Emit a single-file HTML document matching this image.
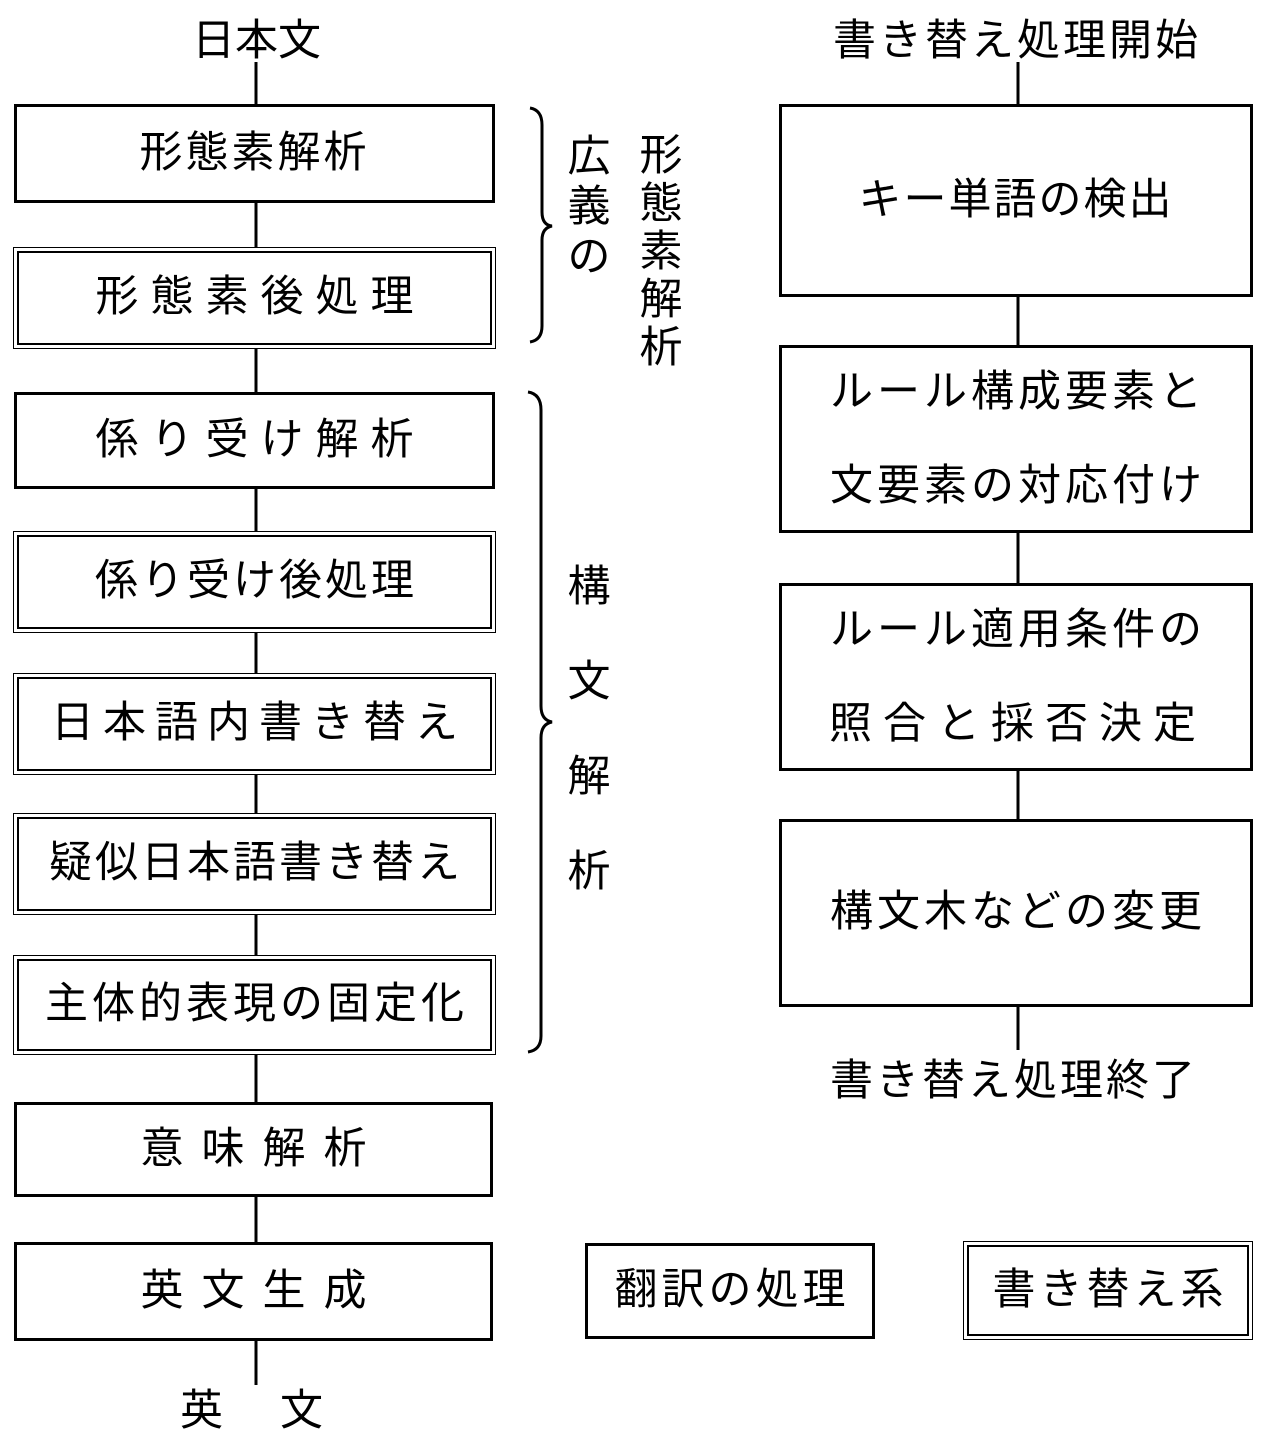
<!DOCTYPE html>
<html><head><meta charset="utf-8">
<style>
html,body{margin:0;padding:0;background:#fff;}
body{width:1279px;height:1445px;position:relative;overflow:hidden;font-family:"Liberation Sans","Noto Sans CJK JP",sans-serif;color:#000;}
.b{position:absolute;box-sizing:border-box;border:3px solid #000;background:#fff;display:flex;align-items:center;justify-content:center;flex-direction:column;font-size:43px;line-height:1.9;white-space:nowrap;}
.d{position:absolute;box-sizing:border-box;border:1.5px solid #000;background:#fff;}
.d .b{left:3px;top:3px;right:3px;bottom:3px;border-width:2.5px;}
.t{position:absolute;font-size:43px;white-space:nowrap;line-height:1;}
.v{position:absolute;font-size:43px;line-height:1;width:46px;text-align:center;}
svg{position:absolute;left:0;top:0;}
</style></head><body>
<svg width="1279" height="1445">
<g stroke="#000" stroke-width="3" fill="none">
<line x1="256" y1="62" x2="256" y2="1385"/>
<line x1="1018" y1="62" x2="1018" y2="1050"/>
<path d="M530 108 Q542 110 542 125 L542 212 Q542 225 552 226 Q542 228 542 240 L542 326 Q542 340 530 342"/>
<path d="M528 392 Q541 394 541 410 L541 706 Q541 720 552 722 Q541 724 541 738 L541 1036 Q541 1050 528 1052"/>
</g></svg>

<div class="t" style="left:192px;top:20px;">日本文</div>
<div class="t" style="left:180px;top:1390px;letter-spacing:57px;">英文</div>

<div class="b" style="left:14px;top:104px;width:481px;height:99px;letter-spacing:3px;">形態素解析</div>
<div class="d" style="left:13px;top:247px;width:483px;height:102px;"><div class="b" style="letter-spacing:12px;padding-left:12px;">形態素後処理</div></div>
<div class="b" style="left:14px;top:392px;width:481px;height:97px;letter-spacing:12px;padding-left:12px;">係り受け解析</div>
<div class="d" style="left:13px;top:531px;width:483px;height:102px;"><div class="b" style="letter-spacing:3px;padding-left:3px;">係り受け後処理</div></div>
<div class="d" style="left:13px;top:673px;width:483px;height:102px;"><div class="b" style="letter-spacing:9px;padding-left:9px;">日本語内書き替え</div></div>
<div class="d" style="left:13px;top:813px;width:483px;height:102px;"><div class="b" style="letter-spacing:3px;padding-left:3px;">疑似日本語書き替え</div></div>
<div class="d" style="left:13px;top:955px;width:483px;height:100px;"><div class="b" style="letter-spacing:4px;padding-left:4px;">主体的表現の固定化</div></div>
<div class="b" style="left:14px;top:1102px;width:479px;height:95px;letter-spacing:18px;padding-left:18px;">意味解析</div>
<div class="b" style="left:14px;top:1242px;width:479px;height:99px;letter-spacing:18px;padding-left:18px;">英文生成</div>

<div class="v" style="left:566px;top:132px;line-height:50px;">広<br>義<br>の</div>
<div class="v" style="left:638px;top:132px;line-height:48px;">形<br>態<br>素<br>解<br>析</div>
<div class="v" style="left:566px;top:540px;line-height:95px;">構<br>文<br>解<br>析</div>

<div class="t" style="left:833px;top:20px;letter-spacing:3px;">書き替え処理開始</div>
<div class="b" style="left:779px;top:104px;width:474px;height:193px;letter-spacing:2px;">キー単語の検出</div>
<div class="b" style="left:779px;top:345px;width:474px;height:188px;line-height:94px;letter-spacing:4px;padding-left:4px;">ルール構成要素と<br>文要素の対応付け</div>
<div class="b" style="left:779px;top:583px;width:474px;height:188px;line-height:94px;letter-spacing:4px;padding-left:4px;">ルール適用条件の<br><span style="letter-spacing:11px">照合と採否決定</span></div>
<div class="b" style="left:779px;top:819px;width:474px;height:188px;letter-spacing:4px;padding-left:4px;">構文木などの変更</div>
<div class="t" style="left:830px;top:1060px;letter-spacing:3px;">書き替え処理終了</div>

<div class="b" style="left:585px;top:1243px;width:290px;height:96px;letter-spacing:4px;padding-left:4px;">翻訳の処理</div>
<div class="d" style="left:963px;top:1241px;width:290px;height:99px;"><div class="b" style="letter-spacing:4px;padding-left:4px;">書き替え系</div></div>
</body></html>
